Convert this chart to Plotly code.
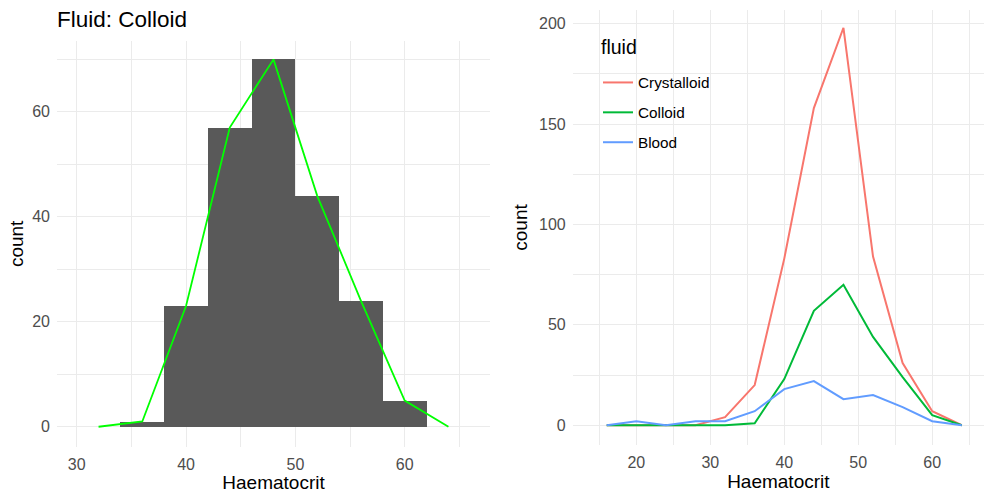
import plotly.graph_objects as go

# Data (bin midpoints, binwidth 4)
hct_bins = [16, 20, 24, 28, 32, 36, 40, 44, 48, 52, 56, 60, 64]
crystalloid = [0, 0, 0, 0, 4, 20, 83, 158, 198, 84, 31, 7, 0]
colloid = [0, 0, 0, 0, 0, 1, 23, 57, 70, 44, 24, 5, 0]
blood = [0, 2, 0, 2, 2, 7, 18, 22, 13, 15, 9, 2, 0]
fluid_names = ["Crystalloid", "Colloid", "Blood"]
fluid_colors = ["#F8766D", "#00BA38", "#619CFF"]

# left panel: colloid histogram + frequency polygon
bar_x = [x for x, c in zip(hct_bins, colloid) if c > 0]
bar_y = [c for c in colloid if c > 0]
poly_x = hct_bins[4:]
poly_y = colloid[4:]

W, H = 984, 493
FONT = "Liberation Sans, Arial, sans-serif"
GRID = "#EBEBEB"
TICKC = "#4D4D4D"

fig = go.Figure()
fig.add_trace(go.Bar(x=bar_x, y=bar_y, width=4, marker=dict(color="#595959", line=dict(width=0)),
                     xaxis="x", yaxis="y", showlegend=False))
fig.add_trace(go.Scatter(x=poly_x, y=poly_y, mode="lines", line=dict(color="#00FF00", width=1.8),
                         xaxis="x", yaxis="y", showlegend=False))

for name, vals, col in zip(fluid_names, [crystalloid, colloid, blood], fluid_colors):
    fig.add_trace(go.Scatter(x=hct_bins, y=vals, mode="lines", name=name, legendgroup=name,
                             line=dict(color=col, width=2), xaxis="x2", yaxis="y2"))

def ax(domain, rng, dtick, minor_dtick, anchor=None):
    return dict(domain=domain, range=rng, dtick=dtick, tick0=0, showgrid=True, gridcolor=GRID,
                gridwidth=1.4, zeroline=False, showline=False, ticks="", anchor=anchor,
                tickfont=dict(family=FONT, size=16, color=TICKC),
                minor=dict(dtick=minor_dtick, tick0=0, showgrid=True, gridcolor=GRID, gridwidth=0.9),
                ticklabelstandoff=6)

title_font = dict(family=FONT, size=19, color="black")
xl = ax([57 / W, 490 / W], [28.2, 67.8], 10, 5, anchor="y")
xl["title"] = dict(text="Haematocrit", font=title_font, standoff=3)
yl = ax([1 - 446.7 / H, 1 - 41 / H], [-3.8, 73.5], 20, 10, anchor="x")
yl["title"] = dict(text="count", font=title_font, standoff=3)

xr = ax([572.7 / W, 1.0], [11.4, 67.0], 10, 5, anchor="y2")
xr["title"] = dict(text="Haematocrit", font=title_font, standoff=3)
yr = ax([1 - 445 / H, 1 - 10 / H], [-9.85, 206.85], 50, 25, anchor="x2")
yr["title"] = dict(text="count", font=title_font, standoff=6)

fig.update_layout(
    width=W, height=H, margin=dict(l=0, r=0, t=0, b=0),
    paper_bgcolor="white", plot_bgcolor="white",
    font=dict(family=FONT),
    xaxis=xl, yaxis=yl, xaxis2=xr, yaxis2=yr,
    bargap=0,
    title=dict(text="Fluid: Colloid", x=57 / W, xanchor="left", y=1 - 19 / H, yanchor="middle",
               font=dict(family=FONT, size=22.5, color="black")),
    legend=dict(x=598 / W, y=1 - 66 / H, xanchor="left", yanchor="top", bgcolor="rgba(0,0,0,0)",
                font=dict(family=FONT, size=15.3, color="black"), tracegroupgap=7,
                itemwidth=30),
    annotations=[dict(text="fluid", x=599 / W, y=1 - 47 / H, xref="paper", yref="paper",
                      xanchor="left", yanchor="middle", showarrow=False,
                      font=dict(family=FONT, size=19.5, color="black"))],
)

fig.write_html("out.html")
